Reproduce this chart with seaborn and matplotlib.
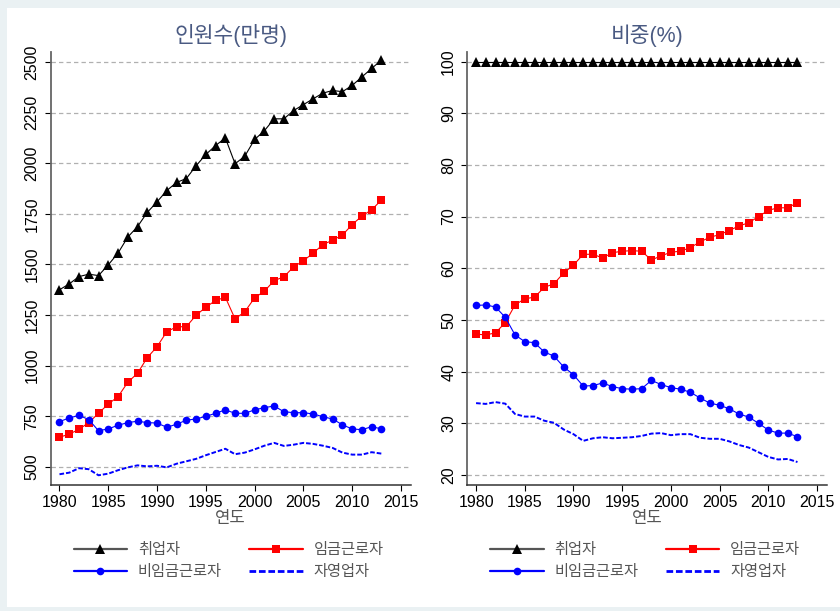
import matplotlib
matplotlib.use("Agg")
import matplotlib.pyplot as plt
from matplotlib.lines import Line2D
from matplotlib.patches import Rectangle
import seaborn as sns
import pandas as pd

sns.set_style("ticks")
plt.rcParams["font.family"] = ["Liberation Sans", "Noto Sans CJK KR", "DejaVu Sans"]

years = list(range(1980, 2014))

# 인원수 (만명)
employed = [1375, 1404, 1440, 1452, 1445, 1498, 1556, 1635, 1687, 1757,
            1809, 1865, 1905, 1924, 1987, 2043, 2087, 2125, 1997, 2035,
            2117, 2160, 2219, 2219, 2260, 2289, 2318, 2346, 2359, 2353,
            2384, 2426, 2468, 2509]
wage = [647, 662, 686, 719, 765, 811, 847, 918, 963, 1040,
        1094, 1168, 1192, 1193, 1249, 1289, 1322, 1338, 1231, 1267,
        1335, 1368, 1420, 1439, 1488, 1518, 1556, 1598, 1620, 1645,
        1697, 1739, 1770, 1818]
nonwage = [724, 742, 755, 734, 679, 688, 706, 719, 726, 719,
           717, 696, 711, 731, 737, 750, 765, 782, 765, 765,
           782, 793, 801, 773, 768, 768, 762, 748, 737, 708,
           688, 684, 699, 688]
selfemp = [464, 472, 494, 489, 459, 467, 484, 498, 508, 503,
           506, 498, 516, 528, 540, 558, 574, 590, 563, 571,
           587, 605, 619, 604, 610, 619, 614, 605, 594, 571,
           561, 561, 573, 566]

# 비중 (%)
employed_pct = [100, 100, 100, 100, 100, 100, 100, 100, 100, 100,
                100, 100, 100, 100, 100, 100, 100, 100, 100, 100,
                100, 100, 100, 100, 100, 100, 100, 100, 100, 100,
                100, 100, 100, 100]
wage_pct = [47.25, 47.1, 47.5, 49.5, 52.9, 54.1, 54.4, 56.3, 57.0, 59.1,
            60.6, 62.7, 62.7, 62.0, 63.0, 63.3, 63.4, 63.3, 61.6, 62.4,
            63.1, 63.3, 64.0, 65.1, 66.0, 66.5, 67.3, 68.2, 68.8, 70.0,
            71.2, 71.7, 71.7, 72.7]
nonwage_pct = [52.8, 52.9, 52.5, 50.5, 47.1, 45.8, 45.6, 43.8, 43.0, 40.9,
               39.4, 37.2, 37.3, 37.8, 37.1, 36.7, 36.6, 36.7, 38.3, 37.5,
               36.9, 36.6, 36.0, 34.9, 33.9, 33.5, 32.8, 31.8, 31.2, 30.0,
               28.7, 28.1, 28.1, 27.4]
selfemp_pct = [33.9, 33.75, 34.1, 33.8, 31.8, 31.3, 31.3, 30.5, 30.1, 28.8,
               27.9, 26.6, 27.1, 27.3, 27.1, 27.2, 27.3, 27.55, 28.0, 28.1,
               27.7, 27.9, 27.9, 27.2, 27.0, 27.0, 26.5, 25.8, 25.3, 24.4,
               23.5, 23.0, 23.1, 22.5]

labels = ["취업자", "임금근로자", "비임금근로자", "자영업자"]
left_ticks = [500, 750, 1000, 1250, 1500, 1750, 2000, 2250, 2500]
right_ticks = [20, 30, 40, 50, 60, 70, 80, 90, 100]
x_ticks = [1980, 1985, 1990, 1995, 2000, 2005, 2010, 2015]

BLUE = "#0000ff"
RED = "#ff0000"
styles = [
    dict(color="black", marker="^", markersize=6.5, linewidth=0.8),
    dict(color=RED, marker="s", markersize=5.5, linewidth=0.8),
    dict(color=BLUE, marker="o", markersize=5.5, linewidth=0.8),
    dict(color=BLUE, marker=None, linewidth=1.4, linestyle=(0, (2.4, 1.0))),
]

fig = plt.figure(figsize=(8.4, 6.11), dpi=100)
fig.patch.set_facecolor("#eaf1f3")
fig.add_artist(Rectangle((7 / 840, 4 / 611), 1 - 7 / 840, 1 - 12 / 611,
                         transform=fig.transFigure, facecolor="white",
                         edgecolor="none", zorder=-10))

W, H = 840, 611


def axes_px(x0, y0, x1, y1):
    return fig.add_axes([x0 / W, 1 - y1 / H, (x1 - x0) / W, (y1 - y0) / H])


ax1 = axes_px(50.7, 52, 410.7, 485)
ax2 = axes_px(467.3, 51.7, 826.7, 485)

panels = [
    (ax1, [employed, wage, nonwage, selfemp], "인원수(만명)", left_ticks, (411, 2549)),
    (ax2, [employed_pct, wage_pct, nonwage_pct, selfemp_pct], "비중(%)", right_ticks, (18.06, 101.9)),
]

for ax, series, title, yticks, ylim in panels:
    ax.set_facecolor("none")
    for vals, st in zip(series, styles):
        df = pd.DataFrame({"year": years, "value": vals})
        kw = dict(st)
        if kw.get("marker") is None:
            kw.pop("marker")
        else:
            kw["markeredgewidth"] = 0
        sns.lineplot(data=df, x="year", y="value", ax=ax, zorder=3, **kw)
    ax.set_xlim(1979.1, 2016)
    ax.set_ylim(*ylim)
    ax.set_xticks(x_ticks)
    ax.set_yticks(yticks)
    ax.yaxis.grid(True, color="#b0b0b0", linestyle=(0, (3.5, 2.5)), linewidth=0.9)
    ax.xaxis.grid(False)
    for s in ["top", "right"]:
        ax.spines[s].set_visible(False)
    ax.spines["left"].set_color("#666666")
    ax.spines["bottom"].set_color("#333333")
    ax.spines["left"].set_linewidth(1.3)
    ax.spines["bottom"].set_linewidth(1.1)
    ax.tick_params(axis="both", labelsize=11.5, colors="black", length=4, width=0.8, pad=3)
    ax.tick_params(axis="y", pad=4)
    for t in ax.get_yticklabels():
        t.set_rotation(90)
        t.set_va("center")
    ax.set_xlabel("연도", fontsize=12, color="#555555", labelpad=1)
    ax.set_ylabel("")
    ax.set_title(title, fontsize=15.5, color="#4a5a82", pad=7)

    handles = []
    for st in styles:
        kw = dict(st)
        if kw.get("marker") is None:
            kw.pop("marker")
            kw["linewidth"] = 2.0
        else:
            kw["markeredgewidth"] = 0
            kw["linewidth"] = 1.6
            if kw["color"] == "black":
                kw["color"] = "#555555"
                kw["markerfacecolor"] = "black"
        handles.append(Line2D([], [], **kw))
    # two columns filled row by row
    order = [0, 2, 1, 3]
    pos = ax.get_position()
    leg = ax.legend([handles[i] for i in order], [labels[i] for i in order],
                    ncol=2, frameon=False, fontsize=11,
                    loc="upper left",
                    bbox_to_anchor=(pos.x0 + 23 / W, 1 - 543 / H),
                    bbox_transform=fig.transFigure,
                    borderpad=0, borderaxespad=0, handlelength=3.5,
                    handletextpad=0.7, columnspacing=1.8, labelspacing=0.55)
    for txt in leg.get_texts():
        txt.set_color("#555555")

fig.savefig("out.png", dpi=100, facecolor=fig.get_facecolor())
